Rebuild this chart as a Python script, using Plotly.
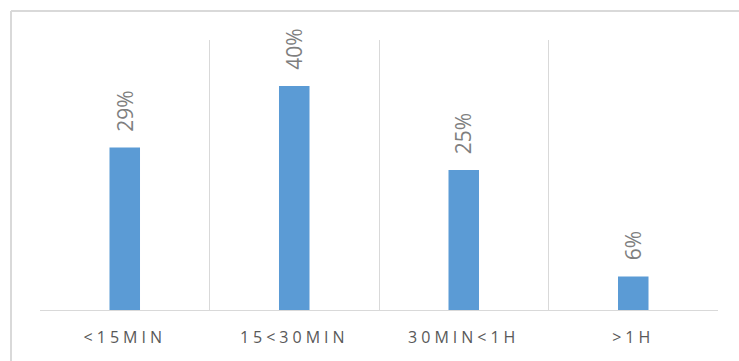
import plotly.graph_objects as go

# Share of respondents by time spent
categories = ["<15MIN", "15<30MIN", "30MIN<1H", ">1H"]
shares = [0.29, 0.40, 0.25, 0.06]
share_labels = ["29%", "40%", "25%", "6%"]

BAR_BLUE = "#5B9BD5"
GRID_GREY = "#D9D9D9"
LABEL_GREY = "#7F7F7F"
AXIS_TEXT = "#595959"

W, H = 739, 361
ML, MR, MT, MB = 40, 21, 40, 51
plot_w = W - ML - MR
plot_h = H - MT - MB

fig = go.Figure(
    go.Bar(
        x=categories,
        y=shares,
        marker=dict(color=BAR_BLUE, line=dict(width=0)),
        hoverinfo="skip",
    )
)

# Rotated value labels sitting above each bar
for cat, val, lab in zip(categories, shares, share_labels):
    fig.add_annotation(
        x=cat, y=val, text=lab, showarrow=False,
        textangle=-90, yanchor="bottom", xanchor="center",
        yshift=14,
        font=dict(family="Open Sans, sans-serif", size=21, color=LABEL_GREY),
    )

# Outer chart frame (left and top edges visible)
fx = (11 - ML) / plot_w
fy = 1 + (MT - 11) / plot_h
fig.add_shape(type="line", xref="paper", yref="paper",
              x0=fx, x1=fx, y0=fy, y1=-0.5,
              line=dict(color=GRID_GREY, width=2))
fig.add_shape(type="line", xref="paper", yref="paper",
              x0=fx, x1=1.2, y0=fy, y1=fy,
              line=dict(color=GRID_GREY, width=2))

fig.update_layout(
    width=W, height=H,
    margin=dict(l=ML, r=MR, t=MT, b=MB),
    paper_bgcolor="white", plot_bgcolor="white",
    bargap=0.82,
    showlegend=False,
    xaxis=dict(
        tickson="boundaries", showgrid=True, gridcolor=GRID_GREY, gridwidth=1,
        showline=True, linecolor=GRID_GREY, linewidth=1,
        ticks="", ticklabelstandoff=13,
        tickfont=dict(family="Open Sans, sans-serif", size=16, color=AXIS_TEXT),
        range=[-0.5, 3.5], fixedrange=True,
    ),
    yaxis=dict(
        range=[0, 0.482], visible=False, showgrid=False, zeroline=False,
        fixedrange=True,
    ),
)

spacing_js = """
document.querySelectorAll('.xtick text').forEach(function(t){
  t.style.letterSpacing = '4px';
});
"""

fig.write_html("out.html", config={"displayModeBar": False}, post_script=spacing_js)
